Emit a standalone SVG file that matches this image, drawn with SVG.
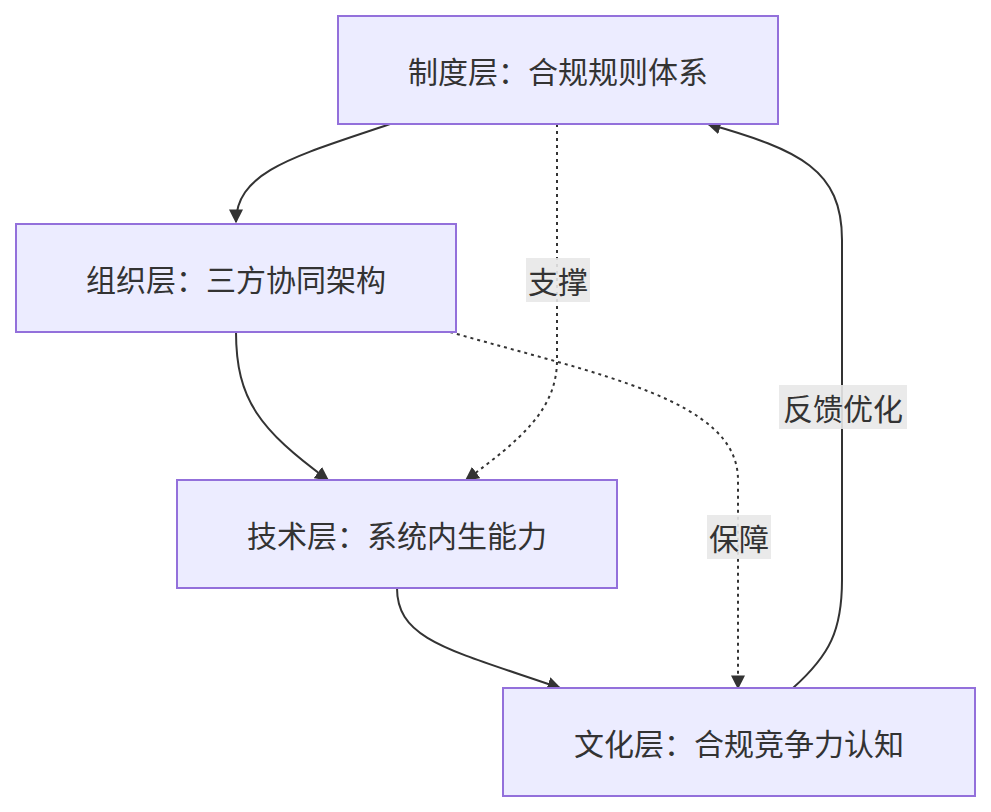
<svg xmlns="http://www.w3.org/2000/svg" width="991" height="812" viewBox="0 0 991 812">
<style>
.n{fill:#ECECFF;stroke:#9370DB;stroke-width:2}
.t{font-family:"Noto Sans CJK SC",sans-serif;font-size:30px;fill:#333;text-anchor:middle;dominant-baseline:central}
.e{fill:none;stroke:#333;stroke-width:2}
.d{stroke-dasharray:3,4}
.lb{fill:#e8e8e8;opacity:0.9}
</style>
<defs><marker id="a" viewBox="0 0 10 10" refX="9" refY="5" markerWidth="7" markerHeight="7" orient="auto-start-reverse" markerUnits="userSpaceOnUse"><path d="M0,0L10,5L0,10z" fill="#333"/></marker>
<marker id="m" viewBox="0 0 10 10" refX="9" refY="5" markerWidth="14" markerHeight="14" orient="auto" markerUnits="userSpaceOnUse"><path d="M0,0L10,5L0,10z" fill="#333"/></marker></defs>
<rect width="991" height="812" fill="#fff"/>
<g id="connectors">
<path class="e" d="M390,124 C300,155 236,170 236,222" marker-end="url(#m)"/>
<path class="e d" d="M557,124 L557,360 C557,410 520,440 466,480" marker-end="url(#m)"/>
<path class="e" d="M236,332 C236,400 260,430 328,480" marker-end="url(#m)"/>
<path class="e d" d="M450,332 C600,375 738,400 738,480 L738,688" marker-end="url(#m)"/>
<path class="e" d="M397,588 C397,640 450,650 560,688" marker-end="url(#m)"/>
<path class="e" d="M793,688 C830,655 842,630 842,580 L842,240 C842,170 800,150 708,124" marker-end="url(#m)"/>
<rect class="lb" x="526" y="258" width="64" height="44"/><text class="t" x="558" y="280">支撑</text>
<rect class="lb" x="707" y="515" width="64" height="44"/><text class="t" x="739" y="537">保障</text>
<rect class="lb" x="779" y="385" width="128" height="44"/><text class="t" x="843" y="407">反馈优化</text>
</g>
<g id="n1"><rect class="n" x="338" y="16" width="440" height="108"/><text class="t" x="558" y="70">制度层：合规规则体系</text></g>
<g id="n2"><rect class="n" x="16" y="224" width="440" height="108"/><text class="t" x="236" y="278">组织层：三方协同架构</text></g>
<g id="n3"><rect class="n" x="177" y="480" width="440" height="108"/><text class="t" x="397" y="534">技术层：系统内生能力</text></g>
<g id="n4"><rect class="n" x="503" y="688" width="472" height="108"/><text class="t" x="739" y="742">文化层：合规竞争力认知</text></g>
</svg>
